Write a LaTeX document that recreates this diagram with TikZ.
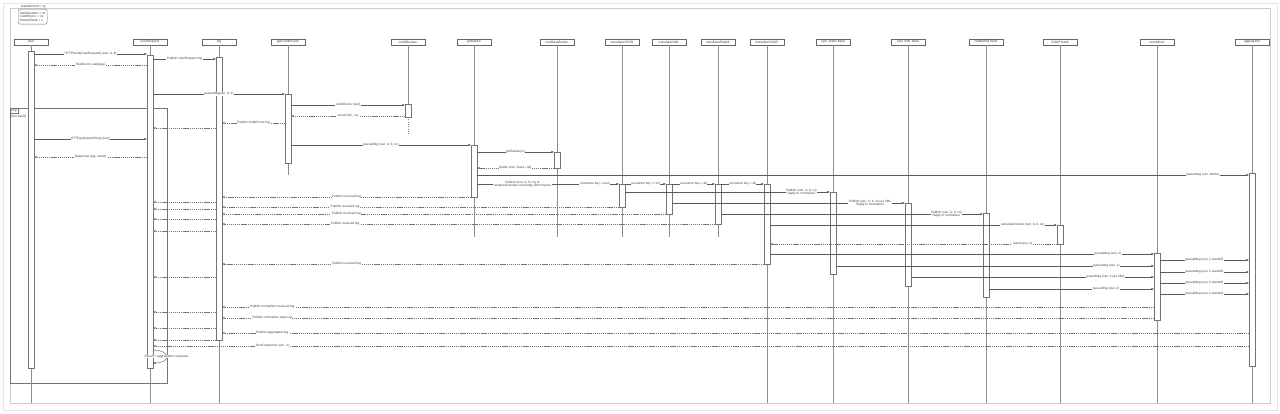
\documentclass[tikz,border=0pt]{standalone}
\usepackage{fontspec}
\setmainfont{Liberation Sans}
\usetikzlibrary{arrows.meta}
\begin{document}
\begin{tikzpicture}[x=1pt,y=-1pt,
  font=\fontsize{3.3}{3.8}\selectfont,
  frameo/.style={draw=black!10, line width=0.6pt},
  framei/.style={draw=black!20, line width=0.5pt},
  framel/.style={draw=black!55, line width=0.45pt},
  head/.style={draw=black!60, fill=white, minimum width=34pt, minimum height=6pt, inner sep=0pt, text=black!75},
  life/.style={draw=black!45, line width=0.35pt},
  bar/.style={draw=black!55, fill=white, minimum width=5.5pt, inner sep=0pt, anchor=north, line width=0.35pt},
  call/.style={draw=black!65, line width=0.4pt, -{Latex[length=2.6pt,width=2.1pt]}},
  ret/.style={draw=black!55, line width=0.4pt, dash pattern=on 1.3pt off 0.8pt, -{Latex[open,length=2.6pt,width=2.4pt]}},
  lbl/.style={fill=white, inner sep=0.5pt, text=black!75, align=center, font=\fontsize{3.2}{3.6}\selectfont},
]
\useasboundingbox (0,0) rectangle (1280,414);
\fill[white] (0,0) rectangle (1280,414);
\draw[frameo] (3,3) rectangle (1277,410);
\draw[framei] (10,8) rectangle (1270,403);

% note
\node[draw=black!55, rounded corners=2pt, fill=white, inner sep=1.2pt, align=left, anchor=north west, text=black!75, minimum width=29pt, minimum height=15pt] (note) at (18,9) {loanDuration = xx\\creditScore = xx\\interestRate = x};
\node[anchor=base west, inner sep=0pt, text=black!75] (notetitle) at (21,7.6) {loanAmount = xy};

% loop frame
\draw[framel] (10,108) rectangle (167,383);
\node[draw=black!55, fill=white, anchor=north west, inner sep=0.8pt, text=black!75] (looplbl) at (10,108) {loop};
\node[anchor=north west, inner sep=0.5pt, text=black!75] (loopcond) at (10.5,114) {[no result]};

% headers
\foreach \n/\x/\t in {h1/31/user, h2/150/userRequest, h3/219/log, h4/288/getCreditScore,
  h5/408/creditBureau, h6/474/getBanks, h7/557/ruleBaseBroker, h8/622/translatorJSON,
  h9/669/translatorXML, h10/718/translatorRabbit, h11/767/translatorSOAP,
  h12/833/Cph JSON bank, h13/908/Cph XML bank, h14/986/RabbitMQ bank, h15/1060/SOAP bank,
  h16/1157/normalizer, h17/1252/aggregator}
  {\node[head] (\n) at (\x,42) {\t};}

% lifelines
\foreach \n in {h1,h2,h3,h11,h12,h13,h14,h15,h16,h17}
  {\draw[life] (\n.south) -- (\n.south |- 0,403);}
\foreach \n in {h6,h7,h8,h9,h10}
  {\draw[life] (\n.south) -- (\n.south |- 0,237);}
\draw[life] (h4.south) -- (h4.south |- 0,175);
\draw[life] (h5.south) -- (h5.south |- 0,117);
\draw[life, dotted] (h5.south |- 0,117) -- (h5.south |- 0,135);

% activation bars
\node[bar, minimum height=317pt] (u)  at (31,51) {};
\node[bar, minimum height=313pt] (r)  at (150,55) {};
\node[bar, minimum height=283pt] (l)  at (219,57) {};
\node[bar, minimum height=69pt]  (c)  at (288,94) {};
\node[bar, minimum height=13pt]  (cb) at (408,104) {};
\node[bar, minimum height=52pt]  (g)  at (474,145) {};
\node[bar, minimum height=16pt]  (rb) at (557,152) {};
\node[bar, minimum height=23pt]  (t1) at (622,184) {};
\node[bar, minimum height=30pt]  (t2) at (669,184) {};
\node[bar, minimum height=40pt]  (t3) at (718,184) {};
\node[bar, minimum height=80pt]  (t4) at (767,184) {};
\node[bar, minimum height=82pt]  (k1) at (833,192) {};
\node[bar, minimum height=83pt]  (k2) at (908,203) {};
\node[bar, minimum height=84pt]  (k3) at (986,213) {};
\node[bar, minimum height=19pt]  (k4) at (1060,225) {};
\node[bar, minimum height=67pt]  (n)  at (1157,253) {};
\node[bar, minimum height=193pt] (a)  at (1252,173) {};

% messages
\draw[call] (u.east |- 0,54) -- node[lbl]{HTTPSend(UserRequest) (ssn, lv, lt)} (r.west |- 0,54);
\draw[call] (r.east |- 0,59) -- node[lbl]{Publish UserRequest log} (l.west |- 0,59);
\draw[ret] (r.west |- 0,65) -- node[lbl]{Redirect to waitpage} (u.east |- 0,65);
\draw[call] (r.east |- 0,94) -- node[lbl, pos=0.5]{queueMsg(ssn, lv, lt)} (c.west |- 0,94);
\draw[call] (c.east |- 0,105) -- node[lbl]{creditScore (ssn)} (cb.west |- 0,105);
\draw[ret] (cb.west |- 0,116) -- node[lbl]{result (ssn, cs)} (c.east |- 0,116);
\draw[ret] (c.west |- 0,123) -- node[lbl]{Publish creditScore log} (l.east |- 0,123);
\draw[ret] (l.west |- 0,128) -- (r.east |- 0,128);
\draw[call] (u.east |- 0,139) -- node[lbl]{HTTPget(userId/msg (ssn))} (r.west |- 0,139);
\draw[ret] (r.west |- 0,157) -- node[lbl]{Response (log, result)} (u.east |- 0,157);
\draw[call] (c.east |- 0,145) -- node[lbl]{queueMsg (ssn, lv, lt, cs)} (g.west |- 0,145);
\draw[call] (g.east |- 0,152) -- node[lbl]{getBanks(cs)} (rb.west |- 0,152);
\draw[ret] (rb.west |- 0,168) -- node[lbl]{banks (ssn / banx / all)} (g.east |- 0,168);
\draw[call] (g.east |- 0,175) -- node[lbl, pos=0.94]{queueMsg (ssn, banks)} (a.west |- 0,175);
\draw[call] (g.east |- 0,184) -- node[lbl, pos=0.32]{Publish (ssn, lv, lt, cs) to\\recipientList topic exchange (Bon topics)}
   node[lbl, pos=0.83]{consumer key = poor} (t1.west |- 0,184);
\draw[call] (t1.east |- 0,184) -- node[lbl]{consumer key = rich} (t2.west |- 0,184);
\draw[call] (t2.east |- 0,184) -- node[lbl]{consumer key = all} (t3.west |- 0,184);
\draw[call] (t3.east |- 0,184) -- node[lbl]{consumer key = all} (t4.west |- 0,184);
\draw[call] (t1.east |- 0,192) -- node[lbl, pos=0.86]{Publish (ssn, lv, lt, cs)\\Reply to normalizer} (k1.west |- 0,192);
\draw[call] (t2.east |- 0,203) -- node[lbl, pos=0.85]{Publish (ssn, lv, lt, cs) as XML\\Reply to normalizer} (k2.west |- 0,203);
\draw[call] (t3.east |- 0,214) -- node[lbl, pos=0.86]{Publish (ssn, lv, lt, cs)\\Reply to normalizer} (k3.west |- 0,214);
\draw[call] (t4.east |- 0,225) -- node[lbl, pos=0.88]{calculateInterest (ssn, lv, lt, cs)} (k4.west |- 0,225);
\draw[ret] (k4.west |- 0,244) -- node[lbl, pos=0.12]{result (ssn, ir)} (t4.east |- 0,244);

% received logs
\draw[ret] (g.west |- 0,197) -- node[lbl, pos=0.5]{Publish received log} (l.east |- 0,197);
\draw[ret] (t1.west |- 0,207) -- node[lbl, pos=0.69]{Publish received log} (l.east |- 0,207);
\draw[ret] (t2.west |- 0,214) -- node[lbl, pos=0.72]{Publish received log} (l.east |- 0,214);
\draw[ret] (t3.west |- 0,224) -- node[lbl, pos=0.75]{Publish received log} (l.east |- 0,224);
\draw[ret] (t4.west |- 0,264) -- node[lbl, pos=0.77]{Publish received log} (l.east |- 0,264);
\foreach \yy in {202,209,219,231,277,312,328,340}
  {\draw[ret] (l.west |- 0,\yy) -- (r.east |- 0,\yy);}

% normalizer
\draw[call] (t4.east |- 0,254) -- node[lbl, pos=0.88]{queueMsg (ssn, ir)} (n.west |- 0,254);
\draw[call] (k1.east |- 0,266) -- node[lbl, pos=0.85]{queueMsg (ssn, ir)} (n.west |- 0,266);
\draw[call] (k2.east |- 0,277) -- node[lbl, pos=0.8]{queueMsg (ssn, ir) as XML} (n.west |- 0,277);
\draw[call] (k3.east |- 0,289) -- node[lbl, pos=0.71]{queueMsg (ssn, ir)} (n.west |- 0,289);
\foreach \yy in {260,272,283,294}
  {\draw[call] (n.east |- 0,\yy) -- node[lbl]{queueMsg (ssn, ir, bankId)} (a.west |- 0,\yy);}

% final logs and response
\draw[ret] (n.west |- 0,307) -- node[lbl, pos=0.946]{Publish normalizer received log} (l.east |- 0,307);
\draw[ret] (n.west |- 0,318) -- node[lbl, pos=0.946]{Publish normalizer reply log} (l.east |- 0,318);
\draw[ret] (a.west |- 0,333) -- node[lbl, pos=0.951]{Publish aggregator log} (l.east |- 0,333);
\draw[ret] (a.west |- 0,346) -- node[lbl, pos=0.891]{Send response (ssn, ir)} (r.east |- 0,346);
\draw[call] (r.east |- 0,350) .. controls (171,350) and (171,363) .. node[lbl, pos=0.5]{Result = aggregation response} (r.east |- 0,363);
\end{tikzpicture}
\end{document}
